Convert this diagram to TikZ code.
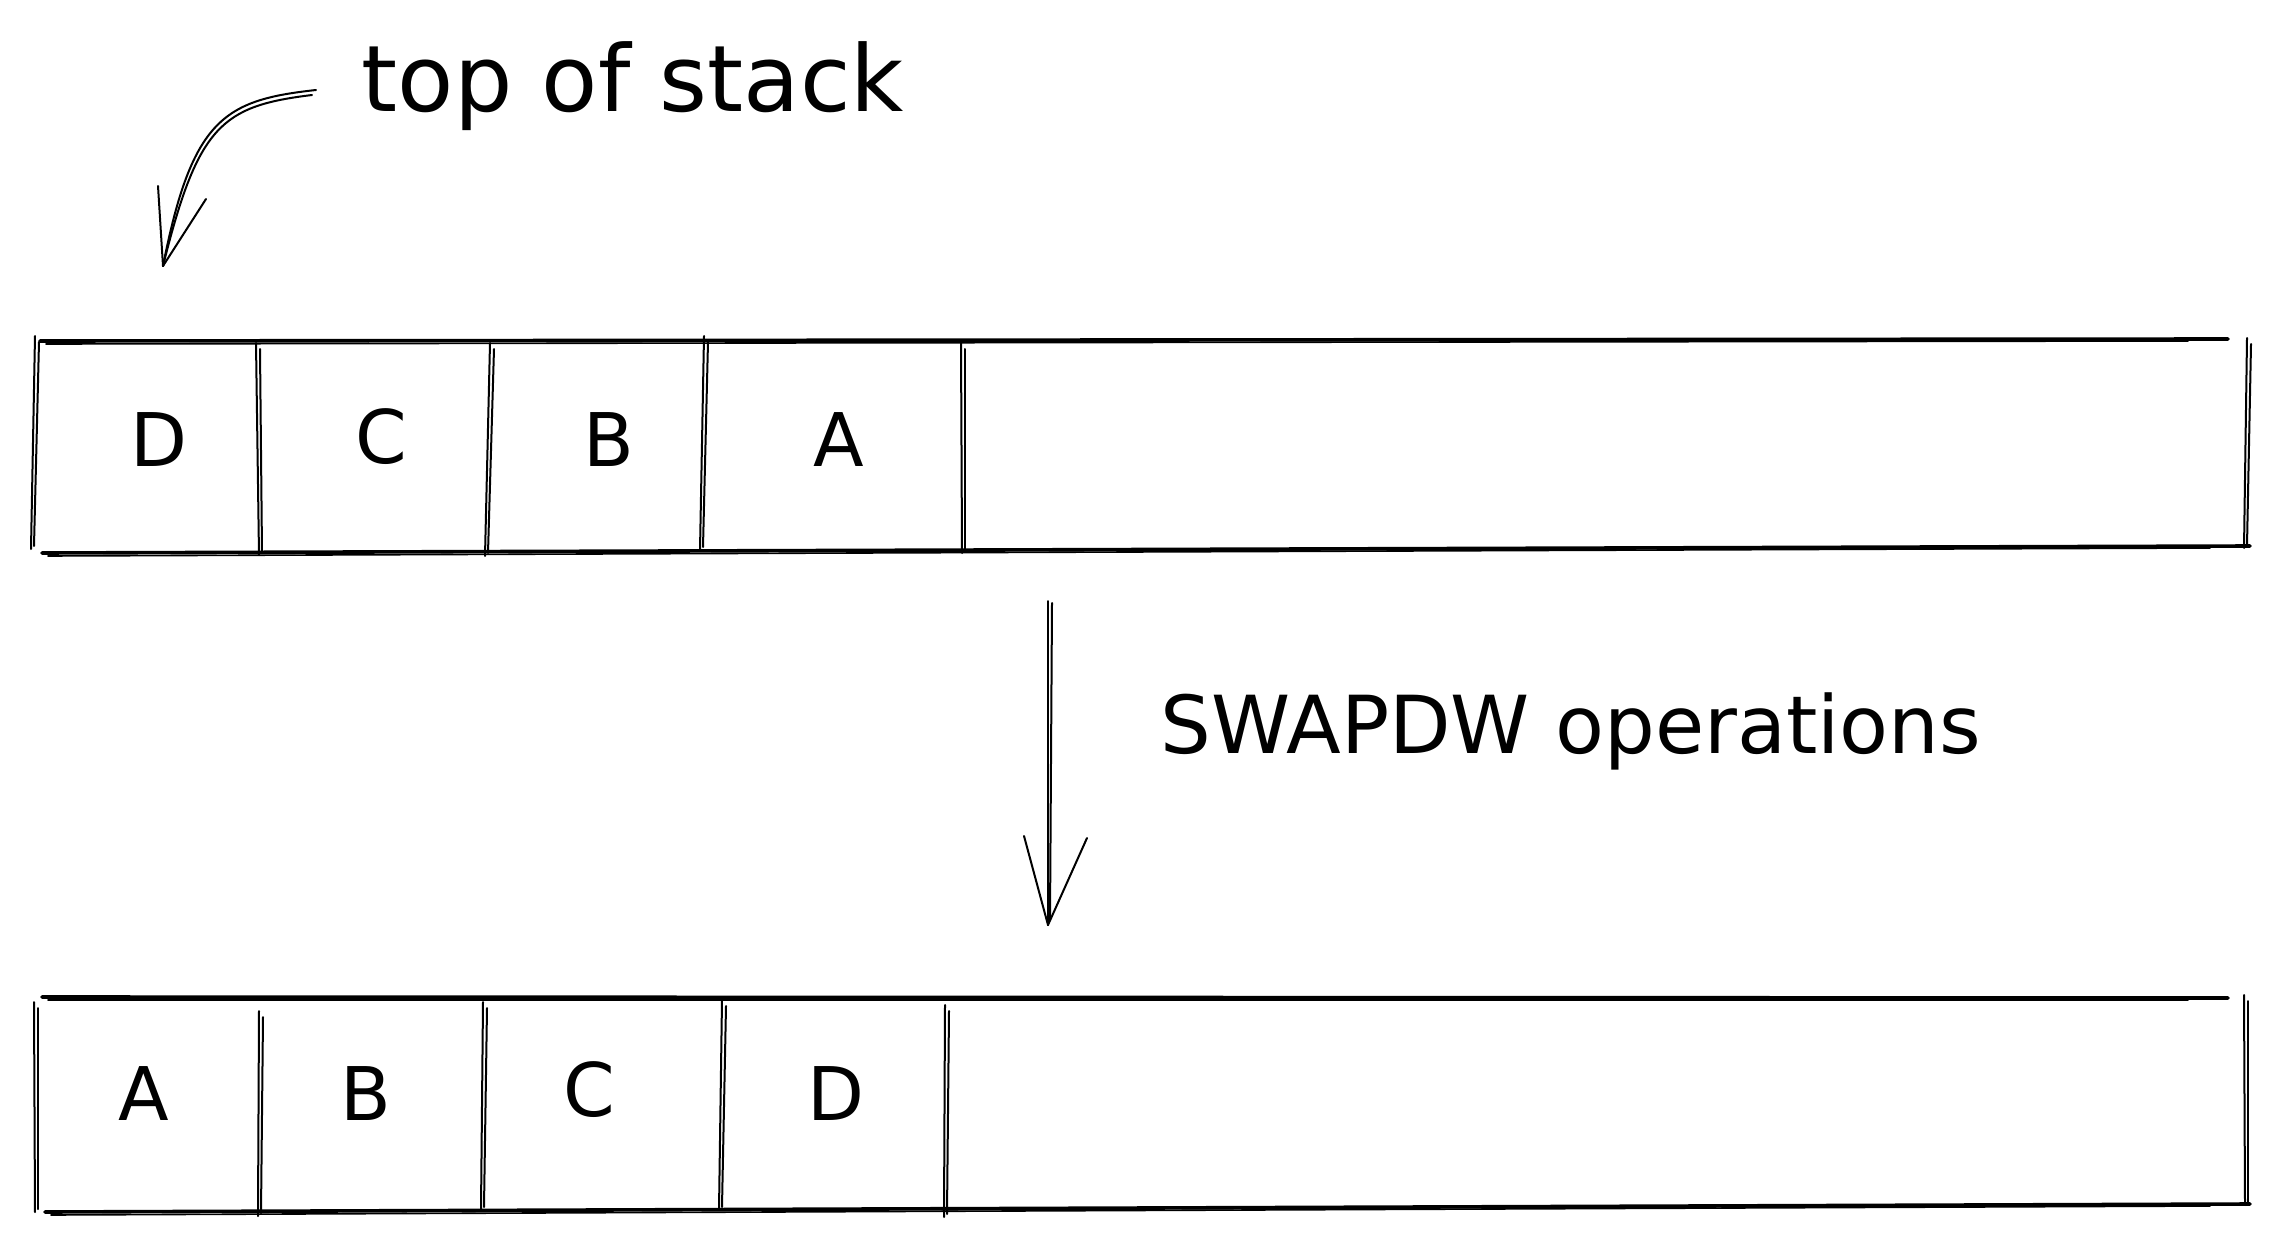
\documentclass[tikz,border=0pt]{standalone}
\usepackage{fontspec}
\setmainfont{DejaVu Sans}
\newcommand\dbl[4]{%
  \draw[vline] (#1,#2) -- (#3,#4);
  \draw[vline] ({#1+4},{#2+6}) -- ({#3+3},{#4-3});}
\newcommand\hdbl[4]{%
  \draw[hline] (#1,#2) -- (#3,#4);
  \draw[hline2] ({#1+6},{#2+3}) -- ({#3-40},{#4+2});}
\begin{document}
\begin{tikzpicture}[x=1pt,y=-1pt,
  hline/.style={line width=3.6pt,line cap=round},
  hline2/.style={line width=1.6pt,line cap=round},
  vline/.style={line width=2pt,line cap=round},
  arr/.style={line width=2pt,line cap=round,line join=round},
  cell/.style={font=\fontsize{74}{80}\selectfont,inner sep=0pt},
  lab/.style={font=\fontsize{80}{90}\selectfont,inner sep=0pt,anchor=base}]
\useasboundingbox (0,0) rectangle (2280,1249);
\fill[white] (0,0) rectangle (2280,1249);

% ---- top stack ----
\hdbl{40}{341}{2228}{339}
\hdbl{42}{553}{2250}{546}
\dbl{35}{336}{31}{549}
\dbl{256}{343}{259}{555}
\dbl{490}{343}{485}{556}
\dbl{704}{336}{700}{550}
\dbl{961}{343}{962}{553}
\dbl{2247}{338}{2244}{548}

\node[cell] (t1) at (159,440) {D};
\node[cell] (t2) at (381,437) {C};
\node[cell] (t3) at (609,440) {B};
\node[cell] (t4) at (839,440) {A};

% ---- bottom stack ----
\hdbl{42}{997}{2228}{998}
\hdbl{45}{1212}{2250}{1204}
\dbl{34}{1002}{35}{1212}
\dbl{259}{1011}{258}{1216}
\dbl{483}{1002}{481}{1210}
\dbl{722}{1000}{719}{1210}
\dbl{945}{1005}{944}{1217}
\dbl{2244}{995}{2245}{1205}

\node[cell] (b1) at (144,1094) {A};
\node[cell] (b2) at (366,1094) {B};
\node[cell] (b3) at (589,1090) {C};
\node[cell] (b4) at (836,1094) {D};

% ---- labels ----
\node[lab,font=\fontsize{92}{100}\selectfont] (tos) at (633,112) {top of stack};
\node[lab] (swap) at (1571,753) {SWAPDW operations};

% ---- top of stack arrow ----
\coordinate (tosS) at (316,90);
\coordinate (tosT) at (163,266);
\draw[arr] (tosS) .. controls (225,100) and (192,118) .. (tosT);
\draw[arr] (tosS) ++(-4,5) .. controls (222,106) and (198,125) .. (tosT);
\draw[arr] (tosT) -- (158,186);
\draw[arr] (tosT) -- (206,199);

% ---- middle arrow ----
\coordinate (mA) at (1048,601);
\coordinate (mT) at (1048,925);
\draw[arr] (mA) -- (mT);
\draw[arr] (1052,603) -- (1050,920);
\draw[arr] (mT) -- (1024,836);
\draw[arr] (mT) -- (1087,838);
\end{tikzpicture}
\end{document}
